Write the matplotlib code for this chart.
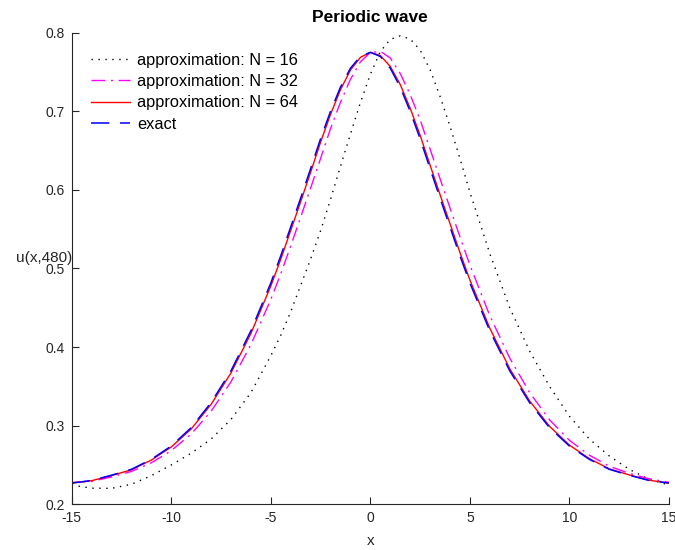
import matplotlib

matplotlib.use("Agg")
import matplotlib.pyplot as plt

plt.rcParams["font.family"] = ["Liberation Sans", "DejaVu Sans"]
plt.rcParams["axes.unicode_minus"] = False

# values
x_vals = [-15, -14, -13, -12, -11, -10, -9, -8, -7, -6, -5, -4.5, -4, -3.5, -3,
          -2.5, -2, -1.5, -1, -0.5, 0, 0.5, 1, 1.5, 2, 2.5, 3, 3.5, 4, 4.5, 5,
          6, 7, 8, 9, 10, 11, 12, 13, 14, 15]

u_n16 = [0.2245, 0.2205, 0.2203, 0.2255, 0.2365, 0.2500, 0.2650, 0.2830, 0.3080,
         0.3420, 0.3890, 0.4150, 0.4450, 0.4785, 0.5120, 0.5480, 0.5880, 0.6300,
         0.6710, 0.7110, 0.7470, 0.7760, 0.7915, 0.7960, 0.7920, 0.7780, 0.7530,
         0.7190, 0.6810, 0.6400, 0.5970, 0.5190, 0.4500, 0.3950, 0.3500, 0.3120,
         0.2830, 0.2615, 0.2445, 0.2318, 0.2246]

u_n32 = [0.2278, 0.2292, 0.2348, 0.2418, 0.2528, 0.2682, 0.2894, 0.3183, 0.3558,
         0.4032, 0.4605, 0.4933, 0.5286, 0.5653, 0.6023, 0.6400, 0.6780, 0.7115,
         0.7407, 0.7629, 0.7747, 0.7764, 0.7678, 0.7481, 0.7213, 0.6891, 0.6521,
         0.6143, 0.5770, 0.5403, 0.5043, 0.4400, 0.3860, 0.3422, 0.3075, 0.2814,
         0.2625, 0.2485, 0.2393, 0.2325, 0.2280]

u_n64 = [0.2270, 0.2300, 0.2366, 0.2439, 0.2563, 0.2729, 0.2958, 0.3271, 0.3671,
         0.4173, 0.4777, 0.5118, 0.5484, 0.5850, 0.6225, 0.6607, 0.6961, 0.7275,
         0.7525, 0.7686, 0.7750, 0.7710, 0.7571, 0.7341, 0.7039, 0.6695, 0.6315,
         0.5940, 0.5572, 0.5204, 0.4853, 0.4241, 0.3725, 0.3315, 0.2992, 0.2753,
         0.2581, 0.2451, 0.2374, 0.2306, 0.2270]

u_exact = [0.2270, 0.2303, 0.2370, 0.2445, 0.2572, 0.2741, 0.2975, 0.3293, 0.3698,
           0.4207, 0.4815, 0.5161, 0.5528, 0.5895, 0.6270, 0.6651, 0.7000, 0.7308,
           0.7548, 0.7698, 0.7750, 0.7698, 0.7548, 0.7308, 0.7000, 0.6651, 0.6270,
           0.5895, 0.5528, 0.5161, 0.4815, 0.4207, 0.3698, 0.3293, 0.2975, 0.2741,
           0.2572, 0.2445, 0.2370, 0.2303, 0.2270]

x_ticks = [-15, -10, -5, 0, 5, 10, 15]
y_ticks = [0.2, 0.3, 0.4, 0.5, 0.6, 0.7, 0.8]

W, H = 675, 550
fig = plt.figure(figsize=(W / 100, H / 100), dpi=100)
ax = fig.add_axes([71.7 / W, 1 - 504.3 / H, (669 - 71.7) / W, (504.3 - 32.7) / H])

axis_col = "#262626"
ax.plot(x_vals, u_n16, color="black", ls=(0, (1, 4)), lw=1.0, label="approximation: N = 16")
ax.plot(x_vals, u_n32, color="#ff00ff", ls=(0, (10, 4, 1.5, 4)), lw=1.0, label="approximation: N = 32")
ax.plot(x_vals, u_n64, color="red", ls="-", lw=1.0, label="approximation: N = 64")
ax.plot(x_vals, u_exact, color="blue", ls=(0, (12, 7)), lw=1.1, label="exact")

ax.set_xlim(-15, 15)
ax.set_ylim(0.2, 0.8)
ax.set_xticks(x_ticks)
ax.set_yticks(y_ticks)
ax.set_yticklabels([f"{v:.1f}" for v in y_ticks])
ax.spines["top"].set_visible(False)
ax.spines["right"].set_visible(False)
for s in ("left", "bottom"):
    ax.spines[s].set_color(axis_col)
    ax.spines[s].set_linewidth(0.8)
ax.tick_params(direction="in", length=5, width=0.8, colors=axis_col, labelsize=10, pad=5)

ax.set_title("Periodic wave", fontsize=12.5, fontweight="bold", pad=8)
ax.set_xlabel("x", fontsize=11, color=axis_col, labelpad=6)
fig.text(72 / W, 1 - 258 / H, "u(x,480)", ha="right", va="center", fontsize=11, color=axis_col)

ax.legend(loc="upper left", bbox_to_anchor=(91 / W, 1 - 53 / H), bbox_transform=fig.transFigure,
          frameon=False, fontsize=11.8, handlelength=2.4, handletextpad=0.4,
          labelspacing=0.38, borderpad=0, borderaxespad=0)

fig.savefig("out.png", dpi=100)
